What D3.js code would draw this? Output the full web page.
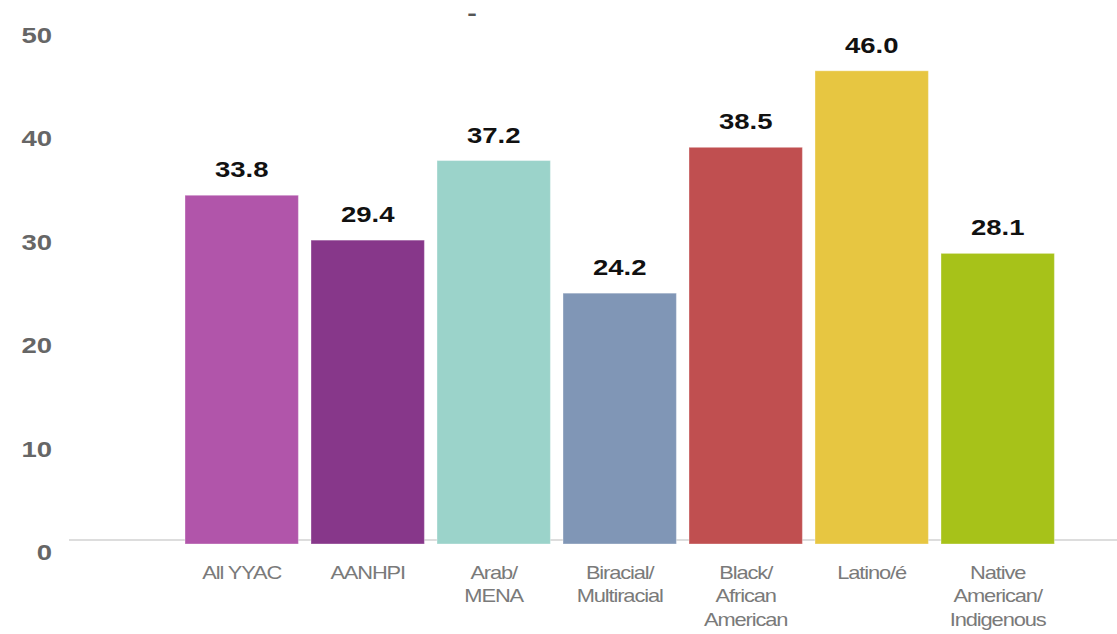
<!DOCTYPE html>
<html>
<head>
<meta charset="utf-8">
<script src="https://cdn.jsdelivr.net/npm/d3@7"></script>
<style>
  html, body { margin: 0; padding: 0; background: #fff; }
  svg { display: block; font-family: "Liberation Sans", Arial, Helvetica, sans-serif; }
</style>
</head>
<body>
<svg id="chart" width="1117" height="634"></svg>
<script>
// data
const categories = ['All YYAC', 'AANHPI', 'Arab/\nMENA', 'Biracial/\nMultiracial',
  'Black/\nAfrican\nAmerican', 'Latino/é', 'Native\nAmerican/\nIndigenous'];
const values = [33.8, 29.4, 37.2, 24.2, 38.5, 46.0, 28.1];
const barColors = ['#b155aa', '#87378a', '#9bd3ca', '#8096b6', '#c04f50', '#e7c641', '#a7c219'];
const yTicks = [0, 10, 20, 30, 40, 50];
const title = '-';

const width = 1117, height = 634;
const stretch = 1.25; // the reference text is drawn wide

const svg = d3.select('#chart');

const x = d3.scaleBand()
  .domain(categories)
  .range([178.7, 1060.7])
  .paddingInner(0.1)
  .paddingOuter(0.05);

const y = d3.scaleLinear().domain([0, 50]).range([540, 30]);
// tick labels sit a little lower than the bar scale
const yLab = d3.scaleLinear().domain([0, 50]).range([552, 35]);

// baseline
svg.append('line')
  .attr('x1', 69).attr('x2', width)
  .attr('y1', y(0)).attr('y2', y(0))
  .attr('stroke', '#dddddd')
  .attr('stroke-width', 2);

// bars
svg.selectAll('rect.bar')
  .data(values)
  .enter()
  .append('rect')
  .attr('class', 'bar')
  .attr('x', (d, i) => x(categories[i]))
  .attr('y', d => y(d))
  .attr('width', x.bandwidth())
  .attr('height', d => y(0) - y(d) + 4)
  .attr('fill', (d, i) => barColors[i])
  .attr('stroke', 'rgba(255,255,255,0.35)')
  .attr('stroke-width', 1);

// value labels
svg.selectAll('text.val')
  .data(values)
  .enter()
  .append('text')
  .attr('class', 'val')
  .attr('transform', (d, i) => `translate(${x(categories[i]) + x.bandwidth() / 2},${y(d) - 18}) scale(${stretch},1)`)
  .attr('text-anchor', 'middle')
  .attr('font-size', 22)
  .attr('font-weight', 'bold')
  .attr('fill', '#111')
  .text(d => d.toFixed(1));

// y tick labels
svg.selectAll('text.ytick')
  .data(yTicks)
  .enter()
  .append('text')
  .attr('class', 'ytick')
  .attr('transform', d => `translate(52,${yLab(d)}) scale(${stretch},1)`)
  .attr('text-anchor', 'end')
  .attr('dominant-baseline', 'central')
  .attr('font-size', 22)
  .attr('font-weight', 'bold')
  .attr('fill', '#666')
  .text(d => d);

// category labels
const cat = svg.selectAll('text.cat')
  .data(categories)
  .enter()
  .append('text')
  .attr('class', 'cat')
  .attr('transform', d => `translate(${x(d) + x.bandwidth() / 2},579) scale(${stretch},1)`)
  .attr('text-anchor', 'middle')
  .attr('font-size', 17.5)
  .attr('letter-spacing', -0.9)
  .attr('fill', '#7a7a7a');

cat.each(function(d) {
  const t = d3.select(this);
  d.split('\n').forEach((line, j) => {
    t.append('tspan')
      .attr('x', 0)
      .attr('dy', j === 0 ? 0 : 23.5)
      .text(line);
  });
});

// title
svg.append('text')
  .attr('transform', `translate(472,20) scale(1.6,1.1)`)
  .attr('text-anchor', 'middle')
  .attr('font-size', 18)
  .attr('font-weight', 'bold')
  .attr('fill', '#555')
  .text(title);
</script>
</body>
</html>
